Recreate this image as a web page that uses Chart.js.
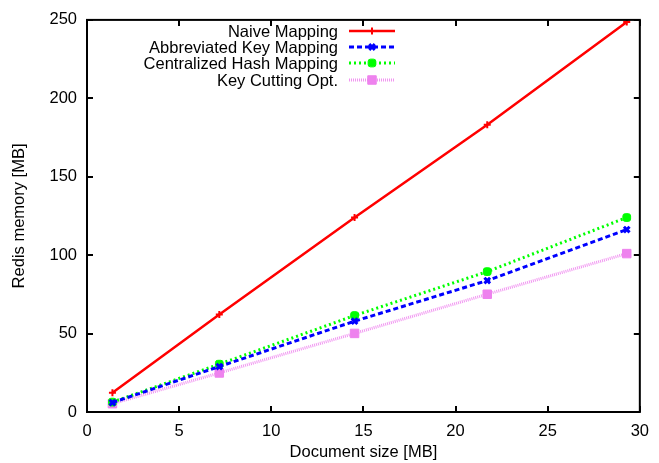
<!DOCTYPE html>
<html>
<head>
<meta charset="utf-8">
<script src="https://cdn.jsdelivr.net/npm/chart.js@4/dist/chart.umd.min.js"></script>
<style>
  html, body { margin: 0; padding: 0; background: #fff; }
  canvas { display: block; }
</style>
</head>
<body>
<canvas id="chart-memory" width="659" height="463"></canvas>
<script>
// Dades llegides del gràfic (mida del document en MB)
const docSizes     = [1.38, 7.18, 14.52, 21.72, 29.29];
const naiveMem     = [12.3, 62.1, 124.0, 183.1, 248.6];
const abbrevMem    = [6.0, 29.0, 57.9, 83.8, 116.3];
const centralMem   = [6.3, 30.5, 61.5, 89.5, 124.0];
const keyCutMem    = [5.3, 24.9, 50.1, 75.1, 101.0];

const seriesLabels = ['Naive Mapping', 'Abbreviated Key Mapping', 'Centralized Hash Mapping', 'Key Cutting Opt.'];
const xTicks = [0, 5, 10, 15, 20, 25, 30];
const yTicks = [0, 50, 100, 150, 200, 250];

const FONT = "'Liberation Sans', Arial, Helvetica, sans-serif";
const FONT_SIZE = 16.5;

function toPoints(values) {
  return values.map((v, i) => ({ x: docSizes[i], y: v }));
}

// ── Marc amb ticks cap a dins (estil gnuplot) ────────────────────────────────
const framePlugin = {
  id: 'frame',
  afterDraw(chart) {
    const { ctx, chartArea: a, scales } = chart;
    const len = 6;
    ctx.save();
    ctx.strokeStyle = '#000';
    ctx.lineWidth = 2;
    ctx.beginPath();
    xTicks.forEach(v => {
      const px = Math.round(scales.x.getPixelForValue(v));
      ctx.moveTo(px, a.bottom); ctx.lineTo(px, a.bottom - len);
      ctx.moveTo(px, a.top);    ctx.lineTo(px, a.top + len);
    });
    yTicks.forEach(v => {
      const py = Math.round(scales.y.getPixelForValue(v));
      ctx.moveTo(a.left, py);  ctx.lineTo(a.left + len, py);
      ctx.moveTo(a.right, py); ctx.lineTo(a.right - len, py);
    });
    ctx.stroke();
    ctx.strokeRect(a.left, a.top, a.right - a.left, a.bottom - a.top);
    ctx.restore();
  }
};

// ── Llegenda dins del gràfic: text a l'esquerra, mostra de línia a la dreta ──
const insideLegend = {
  id: 'insideLegend',
  afterDraw(chart) {
    const ctx = chart.ctx;
    const textRight = 338, lineL = 349, lineR = 395;
    const rowY = [31, 47, 63, 80];
    ctx.save();
    ctx.font = `${FONT_SIZE}px ${FONT}`;
    ctx.textAlign = 'right';
    ctx.textBaseline = 'middle';
    chart.data.datasets.forEach((ds, i) => {
      const y = rowY[i];
      ctx.fillStyle = '#000';
      ctx.fillText(ds.label, textRight, y + 1);
      ctx.save();
      ctx.strokeStyle = ds.borderColor;
      ctx.lineWidth = ds.borderWidth;
      ctx.setLineDash(ds.borderDash || []);
      ctx.beginPath();
      ctx.moveTo(lineL, y); ctx.lineTo(lineR, y);
      ctx.stroke();
      ctx.restore();
      ctx.save();
      ctx.strokeStyle = ds.pointBorderColor;
      ctx.fillStyle = ds.pointBackgroundColor;
      ctx.lineWidth = ds.pointBorderWidth;
      Chart.helpers.drawPoint(ctx, {
        pointStyle: ds.pointStyle, radius: ds.pointRadius, rotation: 0, borderWidth: ds.pointBorderWidth
      }, (lineL + lineR) / 2, y);
      ctx.restore();
    });
    ctx.restore();
  }
};

new Chart(document.getElementById('chart-memory'), {
  type: 'line',
  data: {
    datasets: [
      {
        label: seriesLabels[0], data: toPoints(naiveMem),
        borderColor: '#ff0000', borderWidth: 2.5,
        pointStyle: 'cross', pointRadius: 3.5, pointBorderWidth: 2,
        pointBorderColor: '#ff0000', pointBackgroundColor: '#ff0000',
      },
      {
        label: seriesLabels[1], data: toPoints(abbrevMem),
        borderColor: '#0000ff', borderWidth: 3, borderDash: [5, 3],
        pointStyle: 'crossRot', pointRadius: 4, pointBorderWidth: 3,
        pointBorderColor: '#0000ff', pointBackgroundColor: '#0000ff',
      },
      {
        label: seriesLabels[2], data: toPoints(centralMem),
        borderColor: '#00ff00', borderWidth: 3, borderDash: [2, 3],
        pointStyle: 'rectRounded', pointRadius: 4.5, pointBorderWidth: 1,
        pointBorderColor: '#00ff00', pointBackgroundColor: '#00ff00',
      },
      {
        label: seriesLabels[3], data: toPoints(keyCutMem),
        borderColor: 'rgba(238, 130, 238, 0.85)', borderWidth: 3, borderDash: [1, 1],
        pointStyle: 'rect', pointRadius: 6, pointBorderWidth: 1,
        pointBorderColor: '#ee82ee', pointBackgroundColor: '#ee82ee',
      },
    ]
  },
  options: {
    responsive: false,
    devicePixelRatio: 1,
    animation: false,
    layout: { padding: { left: 0, top: 16, right: 13, bottom: 0 } },
    plugins: { legend: { display: false }, tooltip: { enabled: false } },
    scales: {
      x: {
        type: 'linear', min: 0, max: 30,
        afterFit: s => { s.height = 51; },
        afterBuildTicks: s => { s.ticks = xTicks.map(v => ({ value: v })); },
        grid: { display: false, drawTicks: false },
        border: { display: false },
        ticks: { padding: 10, color: '#000', font: { family: FONT, size: FONT_SIZE } },
        title: { display: true, text: 'Document size [MB]', color: '#000',
                 font: { family: FONT, size: FONT_SIZE }, padding: { top: 0, bottom: 1 } },
      },
      y: {
        type: 'linear', min: 0, max: 250,
        afterFit: s => { s.width = 87; },
        afterBuildTicks: s => { s.ticks = yTicks.map(v => ({ value: v })); },
        grid: { display: false, drawTicks: false },
        border: { display: false },
        ticks: { padding: 10, color: '#000', font: { family: FONT, size: FONT_SIZE } },
        title: { display: true, text: 'Redis memory [MB]', color: '#000',
                 font: { family: FONT, size: FONT_SIZE }, padding: { top: 10, bottom: 0 } },
      }
    }
  },
  plugins: [framePlugin, insideLegend]
});
</script>
</body>
</html>
